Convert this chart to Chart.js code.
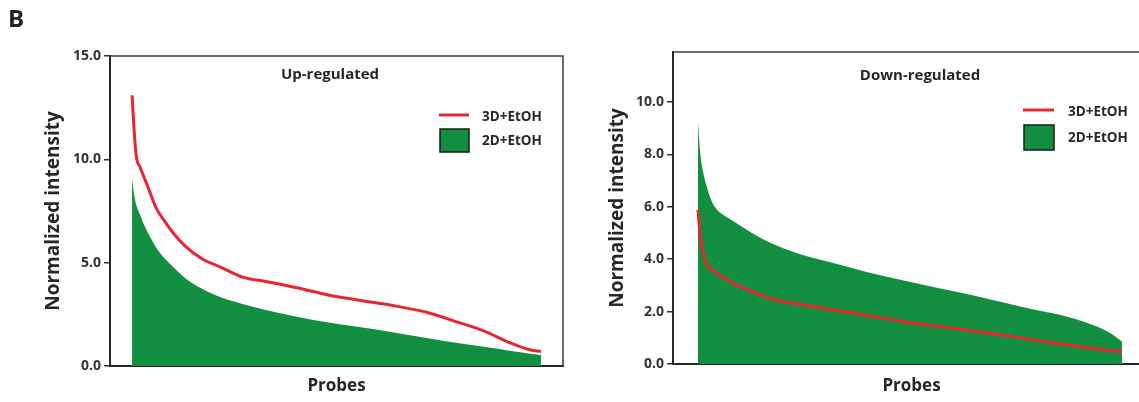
<!DOCTYPE html>
<html>
<head>
<meta charset="utf-8">
<script src="https://cdn.jsdelivr.net/npm/chart.js@4.4.1/dist/chart.umd.min.js"></script>
<style>
  html, body { margin: 0; padding: 0; background: #fff; overflow: hidden; width: 1139px; height: 402px; }
  #panelLabel { position: absolute; left: 8px; top: 1px; font: bold 24px "Open Sans"; color: #222; z-index: 2; }
  #upWrap { position: absolute; left: 0; top: 0; width: 575px; height: 402px; }
  #downWrap { position: absolute; left: 575px; top: 0; width: 580px; height: 402px; }
</style>
</head>
<body>
<div id="panelLabel">B</div>
<div id="upWrap"><canvas id="upChart"></canvas></div>
<div id="downWrap"><canvas id="downChart"></canvas></div>
<script>
// probe rank (percent of sorted probes) shared by all curves
const probeRank = [0, 0.5, 1, 2, 3, 4, 6, 8, 10, 13, 17, 22, 27, 33, 40, 48, 56, 64, 72, 80, 86, 92, 97, 100]

// Up-regulated panel
const up3D = [13.1, 11.4, 10.2, 9.6, 9.1, 8.6, 7.6, 7.0, 6.45, 5.8, 5.2, 4.75, 4.3, 4.08, 3.8, 3.44, 3.17, 2.92, 2.6, 2.1, 1.7, 1.16, 0.8, 0.7]
const up2D = [9.05, 8.3, 7.8, 7.3, 6.8, 6.4, 5.7, 5.2, 4.8, 4.25, 3.75, 3.3, 3.0, 2.7, 2.4, 2.1, 1.87, 1.62, 1.35, 1.1, 0.93, 0.75, 0.6, 0.53]

// Down-regulated panel
const down3D = [5.88, 4.9, 4.4, 3.8, 3.65, 3.5, 3.3, 3.1, 2.95, 2.75, 2.5, 2.33, 2.2, 2.03, 1.85, 1.62, 1.45, 1.28, 1.1, 0.9, 0.75, 0.62, 0.52, 0.47]
const down2D = [9.19, 8.1, 7.5, 6.8, 6.3, 5.98, 5.68, 5.48, 5.27, 4.97, 4.62, 4.3, 4.05, 3.8, 3.5, 3.2, 2.92, 2.65, 2.35, 2.05, 1.85, 1.55, 1.2, 0.85]

const seriesNames = ["3D+EtOH", "2D+EtOH"]
const upTicks = [0, 5, 10, 15]
const downTicks = [0, 2, 4, 6, 8, 10]

const RED = "#E8262F"
const GREEN = "#128E40"
const INK = "#262626"

Chart.defaults.font.family = "Open Sans"

const pts = (vals) => vals.map((v, i) => ({ x: probeRank[i], y: v }))

// frame, inner title and legend drawn inside the plot box
const panelDecor = {
  id: "panelDecor",
  afterDatasetsDraw(chart, args, o) {
    const { ctx, chartArea: a } = chart
    ctx.save()
    ctx.strokeStyle = "#3a3a3a"
    ctx.lineWidth = 1.5
    ctx.beginPath()
    ctx.moveTo(a.left, a.top)
    ctx.lineTo(a.right, a.top)
    if (o.closeRight) ctx.lineTo(a.right, a.bottom)
    ctx.stroke()

    ctx.fillStyle = INK
    ctx.textBaseline = "middle"
    ctx.textAlign = "center"
    ctx.font = 'bold 15px "Open Sans"'
    ctx.fillText(o.title, a.left + o.titleX, a.top + o.titleY)

    const lg = o.legend
    ctx.font = 'bold 13.5px "Open Sans"'
    ctx.textAlign = "left"
    // line entry
    ctx.strokeStyle = RED
    ctx.lineWidth = 3
    ctx.beginPath()
    ctx.moveTo(a.left + lg.x, a.top + lg.lineY)
    ctx.lineTo(a.left + lg.x + lg.w, a.top + lg.lineY)
    ctx.stroke()
    ctx.fillText(seriesNames[0], a.left + lg.textX, a.top + lg.lineY + 2)
    // box entry
    ctx.fillStyle = GREEN
    ctx.fillRect(a.left + lg.x + 1, a.top + lg.boxY, lg.w - 1, lg.boxH)
    ctx.strokeStyle = "#1a1a1a"
    ctx.lineWidth = 1.5
    ctx.strokeRect(a.left + lg.x + 1, a.top + lg.boxY, lg.w - 1, lg.boxH)
    ctx.fillStyle = INK
    ctx.fillText(seriesNames[1], a.left + lg.textX, a.top + lg.boxY + lg.boxH / 2 + 1)
    ctx.restore()
  }
}

function makeChart(id, d3, d2, cfg) {
  return new Chart(document.getElementById(id), {
    type: "line",
    data: {
      datasets: [
        { label: seriesNames[0], data: pts(d3), borderColor: RED, borderWidth: 3, pointRadius: 0, fill: false, cubicInterpolationMode: "monotone" },
        { label: seriesNames[1], data: pts(d2), borderWidth: 0, borderColor: GREEN, backgroundColor: GREEN, pointRadius: 0, fill: "origin", cubicInterpolationMode: "monotone" },
      ],
    },
    plugins: [panelDecor],
    options: {
      responsive: true,
      maintainAspectRatio: false,
      animation: false,
      layout: { padding: cfg.padding },
      plugins: {
        legend: { display: false },
        tooltip: { enabled: false },
        panelDecor: cfg.decor,
      },
      scales: {
        x: {
          type: "linear",
          min: cfg.xMin,
          max: cfg.xMax,
          ticks: { display: false },
          grid: { display: false },
          border: { color: INK, width: 2 },
          title: { display: true, text: "Probes", color: INK, font: { size: 17, weight: "bold" } },
          afterFit: (ax) => { ax.height = cfg.xHeight },
        },
        y: {
          min: 0,
          max: cfg.yMax,
          ticks: {
            padding: 3,
            color: "#333",
            font: { size: 14, weight: "bold" },
            callback: (v) => v.toFixed(1),
          },
          afterBuildTicks: (ax) => { ax.ticks = cfg.ticks.map((v) => ({ value: v })) },
          grid: { drawOnChartArea: false, tickLength: 6, tickColor: "#333", lineWidth: 1.5 },
          border: { color: INK, width: 2 },
          title: { display: true, text: "Normalized intensity", color: INK, font: { size: 19, weight: "bold" } },
          afterFit: (ax) => { ax.width = cfg.yWidth },
        },
      },
    },
  })
}

makeChart("upChart", up3D, up2D, {
  ticks: upTicks,
  yMax: 15,
  xMin: -5.4,
  xMax: 105.4,
  yWidth: 71.4,
  xHeight: 34.6,
  padding: { left: 38.6, top: 56, right: 12, bottom: 1.4 },
  decor: {
    closeRight: true,
    title: "Up-regulated",
    titleX: 220,
    titleY: 19,
    legend: { x: 329, w: 30, lineY: 59, textX: 372, boxY: 73, boxH: 23 },
  },
})

makeChart("downChart", down3D, down2D, {
  ticks: downTicks,
  yMax: 11.9,
  xMin: -5.9,
  xMax: 106.6,
  yWidth: 70.4,
  xHeight: 36.6,
  padding: { left: 27.6, top: 52, right: 5, bottom: 1.4 },
  decor: {
    closeRight: false,
    title: "Down-regulated",
    titleX: 247,
    titleY: 23.5,
    legend: { x: 350, w: 31, lineY: 58, textX: 395, boxY: 73, boxH: 25 },
  },
})
</script>
</body>
</html>
